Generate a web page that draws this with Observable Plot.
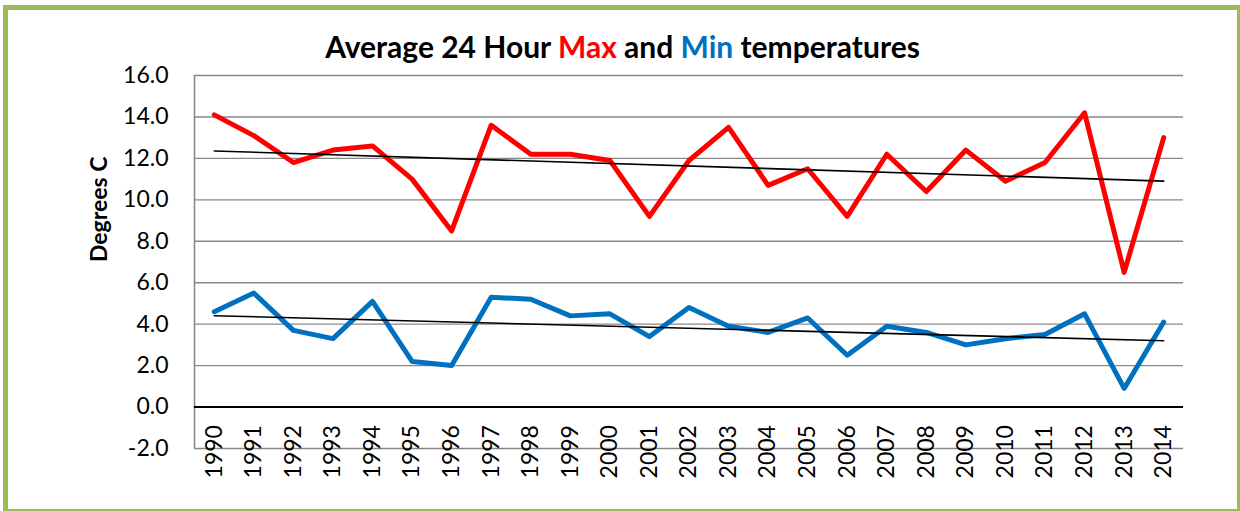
<!DOCTYPE html>
<html>
<head>
<meta charset="utf-8">
<script src="https://cdn.jsdelivr.net/npm/d3@7"></script>
<script src="https://cdn.jsdelivr.net/npm/@observablehq/plot@0.6"></script>
<style>
  html, body { margin: 0; padding: 0; background: #fff; width: 1240px; height: 511px; overflow: hidden; }
  #wrap { position: relative; width: 1240px; height: 511px; font-family: Lato, "Open Sans", sans-serif; }
  #title { height: 60px; box-sizing: border-box; padding-top: 28px; padding-left: 5px; text-align: center;
           font-size: 30px; font-weight: bold; line-height: 1.2; color: #000; white-space: nowrap; overflow: visible; }
  #title .max { color: #FF0000; }
  #title .min { color: #0070C0; }
  #chart svg { display: block; }
  #border { position: absolute; left: 3px; top: 5px; width: 1239px; height: 509px; box-sizing: border-box;
            border: 5px solid #9BBB59; pointer-events: none; }
</style>
</head>
<body>
<div id="wrap">
  <div id="title">Average 24 Hour <span class="max">Max</span> and <span class="min">Min</span> temperatures</div>
  <div id="chart"></div>
  <div id="border"></div>
</div>
<script>
const years = [1990,1991,1992,1993,1994,1995,1996,1997,1998,1999,2000,2001,2002,2003,2004,2005,2006,2007,2008,2009,2010,2011,2012,2013,2014];
const maxTemps = [14.1,13.1,11.8,12.4,12.6,11.0,8.5,13.6,12.2,12.2,11.9,9.2,11.9,13.5,10.7,11.5,9.2,12.2,10.4,12.4,10.9,11.8,14.2,6.5,13.0];
const minTemps = [4.6,5.5,3.7,3.3,5.1,2.2,2.0,5.3,5.2,4.4,4.5,3.4,4.8,3.9,3.6,4.3,2.5,3.9,3.6,3.0,3.3,3.5,4.5,0.9,4.1];
const yTicks = [-2,0,2,4,6,8,10,12,14,16];
const yLabel = "Degrees C";

const maxData = years.map((year, i) => ({year, value: maxTemps[i]}));
const minData = years.map((year, i) => ({year, value: minTemps[i]}));
const xDomain = [years[0] - 0.5, years[years.length - 1] + 0.5];

const chart = Plot.plot({
  width: 1240,
  height: 451,
  marginTop: 15,
  marginBottom: 63,
  marginLeft: 194,
  marginRight: 57,
  style: {fontFamily: "Lato, 'Open Sans', sans-serif", fontSize: "23px", color: "#000", background: "transparent"},
  x: {domain: xDomain, axis: null},
  y: {domain: [yTicks[0], yTicks[yTicks.length - 1]], axis: null},
  marks: [
    Plot.ruleY(yTicks.filter(d => d !== 0), {stroke: "#888", strokeWidth: 1.4}),
    Plot.ruleX([xDomain[0]], {stroke: "#888", strokeWidth: 1.6}),
    Plot.ruleY([0], {stroke: "#000", strokeWidth: 2}),
    Plot.axisY(yTicks, {tickSize: 0, tickPadding: 26, tickFormat: d => d.toFixed(1), label: null}),
    Plot.text(years, {x: d => d, y: () => 0, text: d => String(d), rotate: -90, textAnchor: "end", dy: 18}),
    Plot.text([yLabel], {frameAnchor: "left", rotate: -90, dx: -95, fontWeight: "bold", text: d => d}),
    Plot.lineY(maxData, {x: "year", y: "value", stroke: "#FF0000", strokeWidth: 5}),
    Plot.lineY(minData, {x: "year", y: "value", stroke: "#0070C0", strokeWidth: 5}),
    Plot.linearRegressionY(maxData, {x: "year", y: "value", stroke: "#000", strokeWidth: 1.6, ci: 0}),
    Plot.linearRegressionY(minData, {x: "year", y: "value", stroke: "#000", strokeWidth: 1.6, ci: 0})
  ]
});
document.getElementById("chart").appendChild(chart);
</script>
</body>
</html>
